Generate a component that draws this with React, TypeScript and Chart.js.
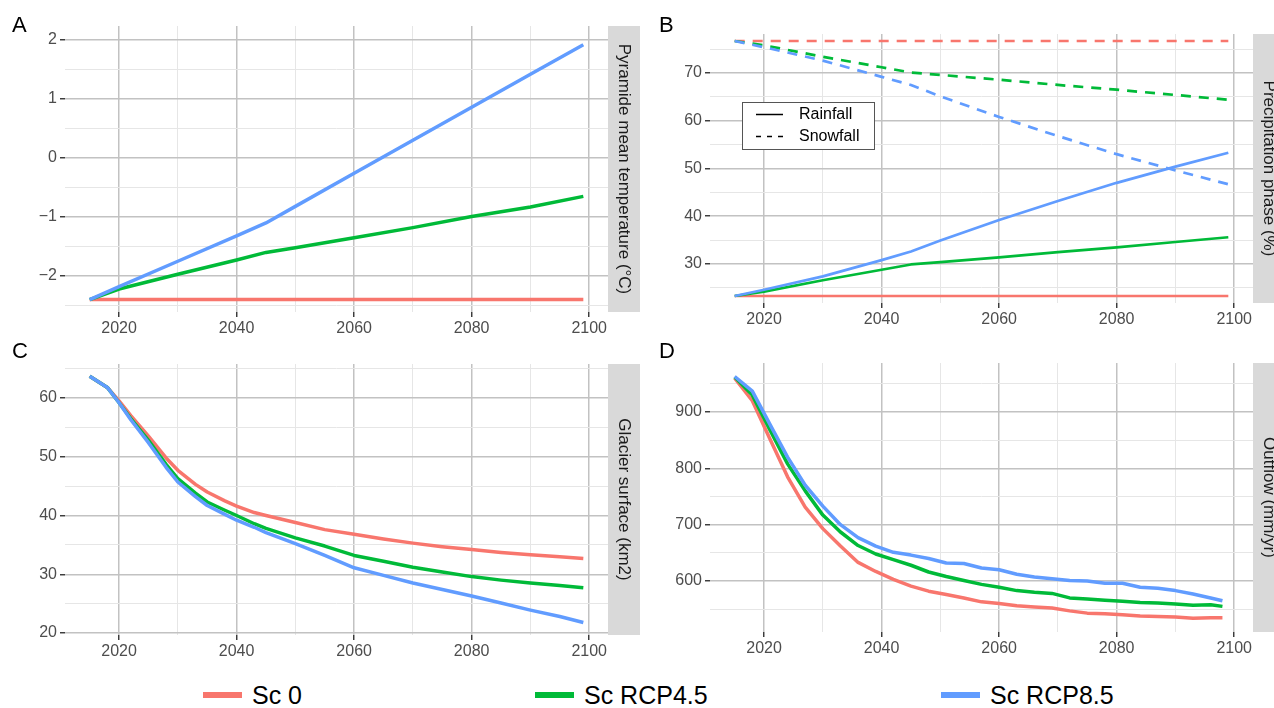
import React, { useEffect, useRef } from "react";
import { Chart, registerables } from "chart.js";

Chart.register(...registerables);

const FONT = '"Liberation Sans", Arial, Helvetica, sans-serif';
const RED = "#F8766D";
const GREEN = "#00BA38";
const BLUE = "#619CFF";
const GRID_MAJOR = "#C2C2C2";
const GRID_MINOR = "#E6E6E6";

// ---------- shared x axis ----------
const X_MIN = 2010.8;
const X_MAX = 2103.2;
const xMajorTicks = [2020, 2040, 2060, 2080, 2100];
const xMinorTicks = [2030, 2050, 2070, 2090];

// ---------- legend ----------
const scenarioLabels = ["Sc 0", "Sc RCP4.5", "Sc RCP8.5"];
const scenarioColors = [RED, GREEN, BLUE];
const phaseLabels = ["Rainfall", "Snowfall"];

// ---------- Panel A : temperature ----------
const yearsA = [2015, 2020, 2030, 2040, 2045, 2050, 2060, 2070, 2080, 2090, 2099];
const tempSc0 = [-2.4, -2.4, -2.4, -2.4, -2.4, -2.4, -2.4, -2.4, -2.4, -2.4, -2.4];
const tempRcp45 = [-2.4, -2.22, -1.97, -1.73, -1.6, -1.52, -1.35, -1.18, -0.99, -0.83, -0.65];
const tempRcp85 = [-2.4, -2.18, -1.75, -1.32, -1.1, -0.82, -0.26, 0.3, 0.86, 1.42, 1.92];
const tempMajorTicks = [-2, -1, 0, 1, 2];
const tempMinorTicks = [-2.5, -1.5, -0.5, 0.5, 1.5];

// ---------- Panel B : precipitation phase ----------
const yearsB = [2015, 2020, 2030, 2040, 2045, 2050, 2060, 2070, 2080, 2090, 2099];
const rainSc0 = [23.3, 23.3, 23.3, 23.3, 23.3, 23.3, 23.3, 23.3, 23.3, 23.3, 23.3];
const snowSc0 = [76.7, 76.7, 76.7, 76.7, 76.7, 76.7, 76.7, 76.7, 76.7, 76.7, 76.7];
const rainRcp45 = [23.3, 24.2, 26.6, 28.8, 29.9, 30.4, 31.4, 32.5, 33.5, 34.6, 35.6];
const snowRcp45 = [76.7, 75.8, 73.4, 71.2, 70.1, 69.6, 68.6, 67.5, 66.5, 65.4, 64.4];
const rainRcp85 = [23.3, 24.6, 27.4, 30.8, 32.6, 34.9, 39.2, 43.2, 47.0, 50.4, 53.3];
const snowRcp85 = [76.7, 75.4, 72.6, 69.2, 67.5, 65.1, 60.8, 56.8, 53.0, 49.6, 46.7];
const precMajorTicks = [30, 40, 50, 60, 70];
const precMinorTicks = [25, 35, 45, 55, 65, 75];

// ---------- Panel C : glacier surface ----------
const yearsC = [2015, 2018, 2020, 2022, 2025, 2028, 2030, 2033, 2035, 2038, 2040, 2043, 2045, 2050, 2055, 2060, 2065, 2070, 2075, 2080, 2085, 2090, 2095, 2099];
const glacSc0 = [63.7, 61.8, 59.5, 57.0, 53.5, 49.8, 47.7, 45.3, 44.0, 42.5, 41.6, 40.5, 40.0, 38.8, 37.6, 36.8, 36.0, 35.3, 34.7, 34.2, 33.7, 33.3, 33.0, 32.7];
const glacRcp45 = [63.7, 61.8, 59.2, 56.5, 52.8, 48.7, 46.3, 43.8, 42.3, 40.9, 40.0, 38.6, 37.8, 36.2, 34.8, 33.2, 32.2, 31.2, 30.4, 29.6, 29.0, 28.5, 28.1, 27.7];
const glacRcp85 = [63.7, 61.8, 59.2, 56.3, 52.4, 48.2, 45.7, 43.2, 41.7, 40.2, 39.2, 38.0, 37.1, 35.2, 33.2, 31.1, 29.8, 28.5, 27.4, 26.3, 25.1, 23.9, 22.8, 21.8];
const glacMajorTicks = [20, 30, 40, 50, 60];
const glacMinorTicks = [25, 35, 45, 55, 65];

// ---------- Panel D : outflow ----------
const yearsD = [2015, 2018, 2021, 2024, 2027, 2030, 2033, 2036, 2039, 2042, 2045, 2048, 2051, 2054, 2057, 2060, 2063, 2066, 2069, 2072, 2075, 2078, 2081, 2084, 2087, 2090, 2093, 2096, 2098];
const flowSc0 = [960, 920, 852, 785, 731, 693, 662, 633, 617, 603, 591, 582, 576, 570, 563, 560, 556, 554, 552, 547, 543, 542, 540, 538, 537, 536, 534, 535, 535];
const flowRcp45 = [962, 930, 868, 808, 760, 717, 687, 663, 648, 638, 628, 616, 608, 601, 594, 589, 583, 580, 578, 570, 568, 566, 564, 562, 561, 559, 557, 558, 555];
const flowRcp85 = [963, 937, 878, 820, 770, 733, 700, 677, 662, 651, 646, 640, 632, 631, 623, 620, 612, 607, 604, 601, 600, 596, 596, 589, 587, 583, 577, 570, 565];
const flowMajorTicks = [600, 700, 800, 900];
const flowMinorTicks = [550, 650, 750, 850, 950];

type Series = { label: string; years: number[]; values: number[]; color: string; dash?: number[]; width: number };
type PanelSpec = {
  left: number; top: number; width: number; height: number;
  area: { left: number; top: number; right: number; bottom: number };
  yMin: number; yMax: number; yMajor: number[]; yMinor: number[];
  letter: string; letterX: number; letterY: number;
  strip: string; stripWidth: number;
  series: Series[];
  innerLegend?: boolean;
};

const near = (arr: number[], v: number) => arr.some((m) => Math.abs(m - v) < 1e-6);
const fmt = (v: number) => (v < 0 ? "\u2212" + Math.abs(v) : String(v));

function Panel({ spec }: { spec: PanelSpec }) {
  const ref = useRef<HTMLCanvasElement>(null);
  useEffect(() => {
    const canvas = ref.current!;
    const a = spec.area;
    const deco = {
      id: "deco",
      afterDraw(chart: any) {
        const ctx = chart.ctx as CanvasRenderingContext2D;
        const ca = chart.chartArea;
        ctx.save();
        ctx.fillStyle = "#D9D9D9";
        ctx.fillRect(ca.right, ca.top, spec.stripWidth, ca.bottom - ca.top);
        ctx.fillStyle = "#1A1A1A";
        ctx.font = `17px ${FONT}`;
        ctx.textAlign = "center";
        ctx.textBaseline = "middle";
        ctx.translate(ca.right + spec.stripWidth / 2, (ca.top + ca.bottom) / 2);
        ctx.rotate(Math.PI / 2);
        ctx.fillText(spec.strip, 0, 0);
        ctx.restore();

        ctx.save();
        ctx.fillStyle = "#000000";
        ctx.font = `22px ${FONT}`;
        ctx.textAlign = "left";
        ctx.textBaseline = "alphabetic";
        ctx.fillText(spec.letter, spec.letterX, spec.letterY);
        ctx.restore();

        if (spec.innerLegend) {
          ctx.save();
          const bx = 102, by = 102, bw = 132, bh = 47;
          ctx.fillStyle = "#FFFFFF";
          ctx.fillRect(bx, by, bw, bh);
          ctx.strokeStyle = "#555555";
          ctx.lineWidth = 1;
          ctx.strokeRect(bx + 0.5, by + 0.5, bw, bh);
          ctx.strokeStyle = "#000000";
          ctx.lineWidth = 1.5;
          ctx.beginPath();
          ctx.moveTo(116, 114.5);
          ctx.lineTo(143, 114.5);
          ctx.stroke();
          ctx.setLineDash([5, 6]);
          ctx.beginPath();
          ctx.moveTo(116, 136.5);
          ctx.lineTo(143, 136.5);
          ctx.stroke();
          ctx.setLineDash([]);
          ctx.fillStyle = "#000000";
          ctx.font = `16px ${FONT}`;
          ctx.textAlign = "left";
          ctx.textBaseline = "middle";
          ctx.fillText(phaseLabels[0], 159, 115);
          ctx.fillText(phaseLabels[1], 159, 137);
          ctx.restore();
        }
      },
    };

    const xAll = [...xMajorTicks, ...xMinorTicks].sort((p, q) => p - q);
    const yAll = [...spec.yMajor, ...spec.yMinor].sort((p, q) => p - q);

    const gridFor = (major: number[]) => ({
      color: (c: any) => (c.tick && near(major, c.tick.value) ? GRID_MAJOR : GRID_MINOR),
      lineWidth: (c: any) => (c.tick && near(major, c.tick.value) ? 1.5 : 1),
      tickColor: (c: any) => (c.tick && near(major, c.tick.value) ? "#333333" : "rgba(0,0,0,0)"),
      tickWidth: 1.4,
      tickLength: 5,
      drawTicks: true,
    });

    const chart = new Chart(canvas, {
      type: "line",
      data: {
        datasets: spec.series
          .slice()
          .reverse()
          .map((s) => ({
            label: s.label,
            data: s.years.map((y, i) => ({ x: y, y: s.values[i] })),
            borderColor: s.color,
            backgroundColor: s.color,
            borderWidth: s.width,
            borderDash: s.dash || [],
            borderCapStyle: "butt",
            borderJoinStyle: "round",
            pointRadius: 0,
            pointHoverRadius: 0,
            tension: 0,
            fill: false,
          })),
      },
      options: {
        responsive: false,
        animation: false,
        devicePixelRatio: 1,
        events: [],
        layout: { padding: { left: 0, top: a.top, right: spec.width - a.right, bottom: 0 } },
        plugins: { legend: { display: false }, tooltip: { enabled: false } },
        scales: {
          x: {
            type: "linear",
            min: X_MIN,
            max: X_MAX,
            afterBuildTicks: (s: any) => {
              s.ticks = xAll.map((v) => ({ value: v }));
            },
            afterFit: (s: any) => {
              s.height = spec.height - a.bottom;
            },
            grid: gridFor(xMajorTicks) as any,
            border: { display: false },
            ticks: {
              autoSkip: false,
              maxRotation: 0,
              minRotation: 0,
              padding: 2,
              color: "#4D4D4D",
              font: { family: FONT, size: 16 },
              callback: (v: any) => (near(xMajorTicks, Number(v)) ? String(v) : ""),
            },
          },
          y: {
            type: "linear",
            min: spec.yMin,
            max: spec.yMax,
            afterBuildTicks: (s: any) => {
              s.ticks = yAll.map((v) => ({ value: v }));
            },
            afterFit: (s: any) => {
              s.width = a.left;
            },
            grid: gridFor(spec.yMajor) as any,
            border: { display: false },
            ticks: {
              autoSkip: false,
              padding: 3,
              color: "#4D4D4D",
              font: { family: FONT, size: 16 },
              callback: (v: any) => (near(spec.yMajor, Number(v)) ? fmt(Number(v)) : ""),
            },
          },
        },
      } as any,
      plugins: [deco],
    });
    return () => chart.destroy();
  }, []);
  return (
    <canvas
      ref={ref}
      width={spec.width}
      height={spec.height}
      style={{ position: "absolute", left: spec.left, top: spec.top, width: spec.width, height: spec.height }}
    />
  );
}

const W = 3.5;

const panelA: PanelSpec = {
  left: 0, top: 0, width: 640, height: 340,
  area: { left: 65, top: 26, right: 608, bottom: 312 },
  yMin: -2.61, yMax: 2.237, yMajor: tempMajorTicks, yMinor: tempMinorTicks,
  letter: "A", letterX: 12, letterY: 32,
  strip: "Pyramide mean temperature (°C)", stripWidth: 32,
  series: [
    { label: scenarioLabels[0], years: yearsA, values: tempSc0, color: RED, width: W },
    { label: scenarioLabels[1], years: yearsA, values: tempRcp45, color: GREEN, width: W },
    { label: scenarioLabels[2], years: yearsA, values: tempRcp85, color: BLUE, width: W },
  ],
};

const WB = 2.7;
const DASH = [10, 8];
const panelB: PanelSpec = {
  left: 640, top: 0, width: 634, height: 340,
  area: { left: 70, top: 34, right: 613, bottom: 303 },
  yMin: 21.83, yMax: 78.17, yMajor: precMajorTicks, yMinor: precMinorTicks,
  letter: "B", letterX: 19, letterY: 32,
  strip: "Precipitation phase (%)", stripWidth: 32,
  innerLegend: true,
  series: [
    { label: scenarioLabels[0] + " " + phaseLabels[0], years: yearsB, values: rainSc0, color: RED, width: WB },
    { label: scenarioLabels[0] + " " + phaseLabels[1], years: yearsB, values: snowSc0, color: RED, width: WB, dash: DASH },
    { label: scenarioLabels[1] + " " + phaseLabels[0], years: yearsB, values: rainRcp45, color: GREEN, width: WB },
    { label: scenarioLabels[1] + " " + phaseLabels[1], years: yearsB, values: snowRcp45, color: GREEN, width: WB, dash: DASH },
    { label: scenarioLabels[2] + " " + phaseLabels[0], years: yearsB, values: rainRcp85, color: BLUE, width: WB },
    { label: scenarioLabels[2] + " " + phaseLabels[1], years: yearsB, values: snowRcp85, color: BLUE, width: WB, dash: DASH },
  ],
};

const panelC: PanelSpec = {
  left: 0, top: 340, width: 640, height: 320,
  area: { left: 65, top: 24, right: 608, bottom: 295 },
  yMin: 19.66, yMax: 65.79, yMajor: glacMajorTicks, yMinor: glacMinorTicks,
  letter: "C", letterX: 12, letterY: 18,
  strip: "Glacier surface (km2)", stripWidth: 32,
  series: [
    { label: scenarioLabels[0], years: yearsC, values: glacSc0, color: RED, width: W },
    { label: scenarioLabels[1], years: yearsC, values: glacRcp45, color: GREEN, width: W },
    { label: scenarioLabels[2], years: yearsC, values: glacRcp85, color: BLUE, width: W },
  ],
};

const panelD: PanelSpec = {
  left: 640, top: 340, width: 634, height: 320,
  area: { left: 70, top: 23, right: 613, bottom: 292 },
  yMin: 509.5, yMax: 987, yMajor: flowMajorTicks, yMinor: flowMinorTicks,
  letter: "D", letterX: 19, letterY: 18,
  strip: "Outflow (mm/yr)", stripWidth: 32,
  series: [
    { label: scenarioLabels[0], years: yearsD, values: flowSc0, color: RED, width: W },
    { label: scenarioLabels[1], years: yearsD, values: flowRcp45, color: GREEN, width: W },
    { label: scenarioLabels[2], years: yearsD, values: flowRcp85, color: BLUE, width: W },
  ],
};

const legendKeyX = [203, 535, 941];

export default function App() {
  return (
    <div style={{ position: "absolute", left: 0, top: 0, width: 1274, height: 708, background: "#FFFFFF", overflow: "hidden" }}>
      <Panel spec={panelA} />
      <Panel spec={panelB} />
      <Panel spec={panelC} />
      <Panel spec={panelD} />
      {scenarioLabels.map((lab, i) => (
        <div
          key={lab}
          style={{ position: "absolute", left: legendKeyX[i], top: 680, height: 30, display: "flex", alignItems: "center", fontFamily: FONT, fontSize: 25, color: "#000", whiteSpace: "nowrap", lineHeight: "25px" }}
        >
          <span style={{ display: "inline-block", width: 39, height: 6, background: scenarioColors[i], marginRight: 10 }} />
          <span>{lab}</span>
        </div>
      ))}
    </div>
  );
}
